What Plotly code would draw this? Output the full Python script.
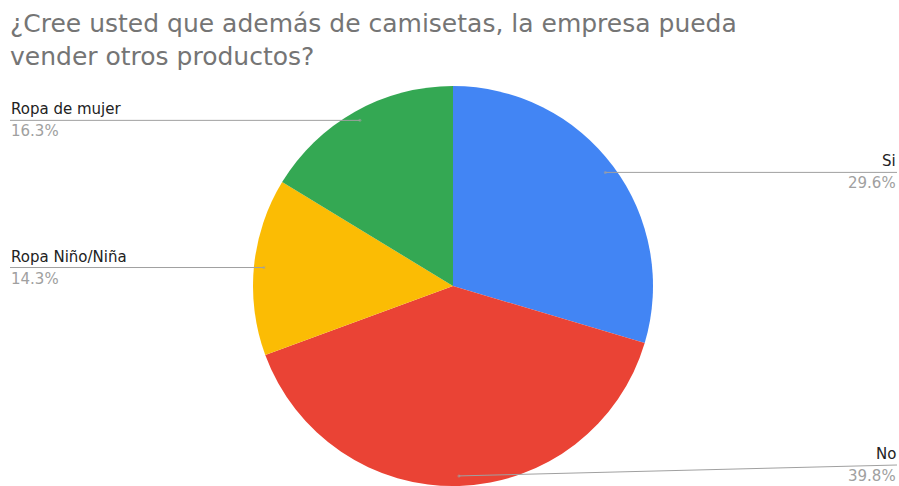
import math
import plotly.graph_objects as go

# Survey answers, in drawing order (clockwise from 12 o'clock)
categories = ["Si", "No", "Ropa Niño/Niña", "Ropa de mujer"]
percentages = [29.6, 39.8, 14.3, 16.3]
percent_labels = ["29.6%", "39.8%", "14.3%", "16.3%"]
colors = ["#4285F4", "#EA4335", "#FBBC04", "#34A853"]

title_lines = ["¿Cree usted que además de camisetas, la empresa pueda",
               "vender otros productos?"]

W, H = 899, 486
FONT = "DejaVu Sans"

# pie placement in pixels (top-left origin)
cx, cy, r = 453.0, 286.0, 200.0
dom_x = [(cx - r) / W, (cx + r) / W]
dom_y = [(H - (cy + r)) / H, (H - (cy - r)) / H]

fig = go.Figure(go.Pie(
    labels=categories,
    values=percentages,
    marker=dict(colors=colors, line=dict(width=0)),
    sort=False,
    direction="clockwise",
    rotation=0,
    textinfo="none",
    hole=0,
    domain=dict(x=dom_x, y=dom_y),
    showlegend=False,
))

def px(x):
    return x / W

def py(y):
    return 1 - y / H

annotations = []
shapes = []

# Two-line title
annotations.append(dict(
    text="<br>".join(title_lines), xref="paper", yref="paper",
    x=px(9), y=py(8), xanchor="left", yanchor="top", align="left",
    showarrow=False, borderpad=0,
    font=dict(family=FONT, size=25, color="#757575"),
))

# Leader lines and outside labels for each slice
total = sum(percentages)
cum = 0.0
for name, val, lab in zip(categories, percentages, percent_labels):
    mid = (cum + val / 2) / total * 2 * math.pi
    cum += val
    sx = cx + 0.95 * r * math.sin(mid)
    sy = cy - 0.95 * r * math.cos(mid)
    ly = min(sy, 465)
    right = math.sin(mid) > 0
    ex = 897 if right else 10
    shapes.append(dict(type="line", xref="paper", yref="paper",
                       x0=px(sx), y0=py(sy), x1=px(ex), y1=py(ly),
                       line=dict(color="#a0a0a0", width=1)))
    shapes.append(dict(type="circle", xref="paper", yref="paper",
                       x0=px(sx - 1.5), x1=px(sx + 1.5),
                       y0=py(sy - 1.5), y1=py(sy + 1.5),
                       line=dict(width=0), fillcolor="rgba(160,160,160,0.6)"))
    anchor = "right" if right else "left"
    annotations.append(dict(
        text=name, xref="paper", yref="paper", x=px(ex), y=py(ly - 1),
        xanchor=anchor, yanchor="bottom", showarrow=False, borderpad=0,
        font=dict(family=FONT, size=15, color="#222222"),
    ))
    annotations.append(dict(
        text=lab, xref="paper", yref="paper", x=px(ex), y=py(ly + 1),
        xanchor=anchor, yanchor="top", showarrow=False, borderpad=0,
        font=dict(family=FONT, size=15, color="#a0a0a0"),
    ))

fig.update_layout(
    width=W, height=H,
    margin=dict(l=0, r=0, t=0, b=0),
    paper_bgcolor="white",
    plot_bgcolor="white",
    annotations=annotations,
    shapes=shapes,
)

fig.write_html("out.html")
